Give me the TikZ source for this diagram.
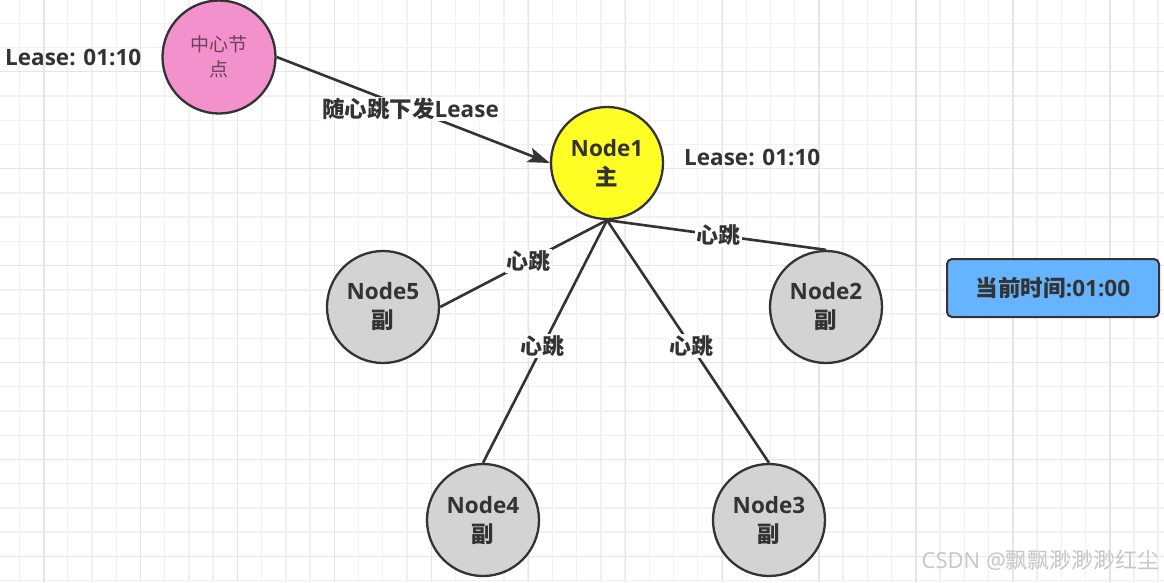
\documentclass[tikz,border=0pt]{standalone}
\usepackage{fontspec}
\setmainfont{Open Sans}
\newfontfamily\cjk{Noto Sans CJK SC}
\usetikzlibrary{arrows.meta}

\definecolor{linegray}{HTML}{333333}
\definecolor{textgray}{HTML}{333333}
\definecolor{gridminor}{HTML}{F1F1F1}
\definecolor{gridmajor}{HTML}{E5E5E5}
\definecolor{hubpink}{HTML}{F291CC}
\definecolor{mainyellow}{HTML}{FFFF26}
\definecolor{peergray}{HTML}{D3D3D3}
\definecolor{timeblue}{HTML}{66B3FF}

\tikzset{
  peer/.style={circle,draw=linegray,line width=2.3pt,fill=peergray,minimum size=112pt,
    inner sep=0pt,align=center,text=textgray,font=\fontsize{22.5}{29}\selectfont\bfseries},
  link/.style={draw=linegray,line width=2.6pt},
  beat/.style={fill=white,inner sep=1.5pt,text=textgray,font=\fontsize{22}{22}\selectfont\bfseries\cjk},
  lease/.style={anchor=west,inner sep=0pt,text=textgray,font=\fontsize{22.5}{22}\selectfont\bfseries}
}

\begin{document}
\begin{tikzpicture}[x=1pt,y=-1pt]
\pgfmathsetmacro{\gstep}{24.23};

\useasboundingbox (0,0) rectangle (1164,582);
\fill[white] (0,0) rectangle (1164,582);

% grid
\foreach \i in {0,...,47} {
  \pgfmathsetmacro{\gx}{19.3+\gstep*\i}
  \draw[gridminor,line width=1.4pt] (\gx,0) -- (\gx,582);
}
\foreach \j in {0,...,23} {
  \pgfmathsetmacro{\gy}{23.3+\gstep*\j}
  \draw[gridminor,line width=1.4pt] (0,\gy) -- (1164,\gy);
}
\foreach \i in {0,...,11} {
  \pgfmathsetmacro{\gx}{43.8+4*\gstep*\i}
  \draw[gridmajor,line width=1.4pt] (\gx,0) -- (\gx,582);
}
\foreach \j in {0,...,5} {
  \pgfmathsetmacro{\gy}{71.7+4*\gstep*\j}
  \draw[gridmajor,line width=1.4pt] (0,\gy) -- (1164,\gy);
}

% nodes
\node[peer,fill=hubpink,minimum size=113pt,font=\fontsize{19}{25}\selectfont\cjk,text=black!55!hubpink]
  (hub) at (219,57) {中心节\\点};
\node[peer,fill=mainyellow] (n1) at (607,163) {Node1\\{\cjk 主}};
\node[peer] (n5) at (383,307) {Node5\\{\cjk 副}};
\node[peer] (n2) at (826,307) {Node2\\{\cjk 副}};
\node[peer] (n4) at (483,520) {Node4\\{\cjk 副}};
\node[peer] (n3) at (769,520) {Node3\\{\cjk 副}};

\node[lease] (hublease) at (5,57) {Lease: 01:10};
\node[lease] (n1lease) at (684,157) {Lease: 01:10};

\node[draw=linegray,line width=2pt,fill=timeblue,rounded corners=5pt,
  minimum width=212pt,minimum height=58pt,text=textgray,
  font=\fontsize{22.5}{22}\selectfont\bfseries] (clock) at (1053,288) {{\cjk 当前时间}:01:00};

% connectors
\draw[link,-{Stealth[length=22pt,width=15pt,inset=5pt]}] (hub.east) -- (n1.west)
  node[beat,pos=.49,font=\fontsize{22.5}{22}\selectfont\bfseries] (push) {{\cjk 随心跳下发}Lease};
\draw[link] (n1.south) -- (n5.east) node[beat,pos=.47] (b5) {心跳};
\draw[link] (n1.south) -- (n2.north) node[beat,pos=.51] (b2) {心跳};
\draw[link] (n1.south) -- (n4.north) node[beat,pos=.52] (b4) {心跳};
\draw[link] (n1.south) -- (n3.north) node[beat,pos=.52] (b3) {心跳};

% watermark
\node[anchor=east,inner sep=0pt,text=gray!45,font=\fontsize{22}{22}\selectfont]
  (mark) at (1160,560) {CSDN @{\cjk 飘飘渺渺渺红尘}};
\end{tikzpicture}
\end{document}
